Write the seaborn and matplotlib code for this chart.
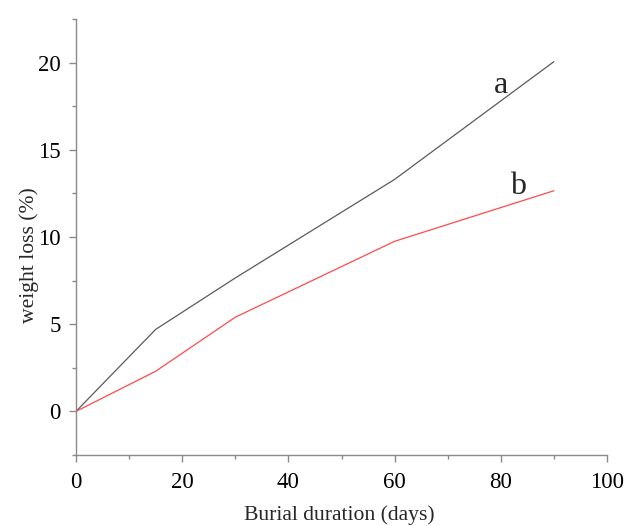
import matplotlib
matplotlib.use("Agg")
import matplotlib.pyplot as plt
from matplotlib.ticker import MultipleLocator
import seaborn as sns
import pandas as pd

days = [0, 15, 30, 60, 90]
loss_a = [0.0, 4.7, 7.65, 13.3, 20.05]
loss_b = [0.0, 2.3, 5.4, 9.75, 12.65]
series_labels = ["a", "b"]

sns.set_theme(style="white")
plt.rcParams["font.family"] = ["Liberation Serif", "DejaVu Serif"]

df = pd.DataFrame({
    "days": days * 2,
    "loss": loss_a + loss_b,
    "series": [series_labels[0]] * len(days) + [series_labels[1]] * len(days),
})

fig = plt.figure(figsize=(6.25, 5.26), dpi=100)
ax = fig.add_axes([0.1216, 0.135, 0.8496, 0.829])

sns.lineplot(data=df, x="days", y="loss", hue="series",
             palette={"a": "#5a5a5a", "b": "#ff4a4a"}, linewidth=0.9,
             legend=False, ax=ax)

ax.set_xlim(0, 100)
ax.set_ylim(-2.5, 22.5)
ax.xaxis.set_major_locator(MultipleLocator(20))
ax.xaxis.set_minor_locator(MultipleLocator(10))
ax.yaxis.set_major_locator(MultipleLocator(5))
ax.yaxis.set_minor_locator(MultipleLocator(2.5))

for s in ["top", "right"]:
    ax.spines[s].set_visible(False)
for s in ["left", "bottom"]:
    ax.spines[s].set_color("#8a8a8a")
    ax.spines[s].set_linewidth(1.0)

ax.tick_params(which="major", direction="out", length=5, width=1.0,
               color="#8a8a8a", labelsize=16.5, labelcolor="black",
               left=True, bottom=True)
ax.tick_params(which="minor", direction="out", length=3, width=1.0,
               color="#8a8a8a", left=True, bottom=True)
ax.tick_params(axis="x", which="major", pad=7.5)
ax.tick_params(axis="y", which="major", pad=6)

ax.set_xlabel("Burial duration (days)", fontsize=15.6)
ax.set_ylabel("weight loss (%)", fontsize=15.6)
ax.xaxis.set_label_coords(0.495, -0.116)
ax.yaxis.set_label_coords(-0.07, 0.459)

ax.text(80, 18.7, series_labels[0], fontsize=23, ha="center", va="center")
ax.text(83.2, 12.9, series_labels[1], fontsize=23, ha="center", va="center")

fig.savefig("out.png", dpi=100)
